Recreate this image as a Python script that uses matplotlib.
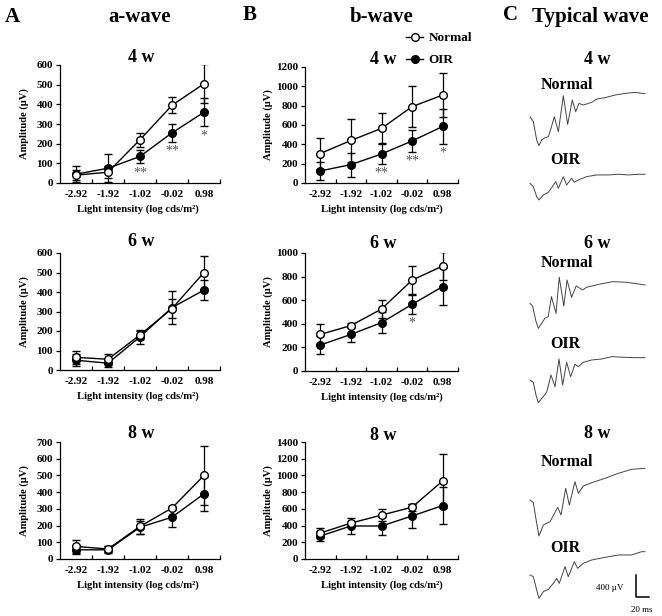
import matplotlib
matplotlib.use("Agg")
import matplotlib.pyplot as plt
import numpy as np

plt.rcParams['font.family'] = ['Liberation Serif', 'DejaVu Serif']
plt.rcParams['font.weight'] = 'bold'

W, H = 662, 616

intensity = ['-2.92', '-1.92', '-1.02', '-0.02', '0.98']
weeks = ['4 w', '6 w', '8 w']

# a-wave amplitude (uV): mean and SD, rows = 4 w, 6 w, 8 w
a_normal = [[40, 55, 220, 395, 505], [65, 55, 180, 315, 500], [75, 60, 195, 305, 500]]
a_normal_sd = [[25, 30, 35, 40, 100], [35, 25, 20, 50, 85], [40, 20, 45, 10, 175]]
a_oir = [[45, 75, 135, 255, 360], [50, 35, 170, 320, 410], [55, 55, 190, 250, 390]]
a_oir_sd = [[40, 70, 35, 45, 72], [30, 20, 35, 85, 50], [25, 20, 40, 60, 100]]
a_sig = [['', '', '**', '**', '*'], ['', '', '', '', ''], ['', '', '', '', '']]
a_ymax = [600, 600, 700]

# b-wave amplitude (uV)
b_normal = [[305, 440, 565, 790, 910], [310, 385, 525, 770, 890], [310, 430, 525, 620, 935]]
b_normal_sd = [[165, 225, 155, 210, 225], [85, 20, 75, 120, 120], [60, 30, 70, 40, 320]]
b_oir = [[125, 190, 300, 435, 585], [220, 310, 410, 565, 715], [275, 395, 395, 515, 640]]
b_oir_sd = [[90, 125, 100, 110, 180], [80, 65, 90, 80, 155], [60, 95, 110, 145, 225]]
b_sig = [['', '', '**', '**', '*'], ['', '', '', '*', ''], ['', '', '', '', '']]
b_ymax = [1200, 1000, 1400]

# typical ERG traces: time (ms) and amplitude (uV) from flash
wave_t = {
    ('4 w', 'Normal'): [0, 5.1, 10.3, 13.8, 17.9, 23.1, 28.2, 32.3, 37.4, 43.6, 51.3, 57.9, 65.1, 70.3,
                        75.4, 82.0, 94.9, 102.6, 115.4, 130.8, 146.2, 161.5, 176.9],
    ('4 w', 'OIR'): [0, 5.1, 10.3, 13.8, 20.5, 28.2, 34.4, 39.5, 43.6, 51.3, 56.4, 64.1, 68.2, 74.4,
                     87.2, 102.6, 120.5, 135.9, 151.3, 166.7, 176.9],
    ('6 w', 'Normal'): [0, 4, 9, 12.8, 17, 23, 28, 33, 40, 45, 52, 57, 64, 71, 81, 87, 108, 128, 149, 177],
    ('6 w', 'OIR'): [0, 5.1, 9.2, 12.8, 25.6, 32.3, 38.5, 44.6, 50.3, 56.4, 62.6, 69.2, 74.4, 82.0,
                     94.9, 110.3, 125.6, 146.2, 161.5, 176.9],
    ('8 w', 'Normal'): [0, 5.1, 10.3, 13.8, 20.5, 30.8, 42.6, 47.7, 54.9, 60.5, 69.2, 74.4, 82.0,
                        94.9, 115.4, 135.9, 156.4, 176.9],
    ('8 w', 'OIR'): [0, 5.1, 10.3, 13.8, 20.5, 28.2, 35.9, 41.0, 45.1, 53.8, 58.9, 68.2, 73.3, 82.0,
                     94.9, 115.4, 135.9, 156.4, 171.8, 176.9],
}
wave_uv = {
    ('4 w', 'Normal'): [0, -91, -424, -527, -424, -382, -364, -212, 0, -273, 382, -139, 303, 91,
                        242, 212, 261, 321, 345, 394, 424, 442, 418],
    ('4 w', 'OIR'): [0, -61, -242, -303, -212, -164, -61, 30, -91, 121, -30, 91, 18, 61,
                     121, 152, 152, 164, 152, 164, 164],
    ('6 w', 'Normal'): [0, -50, -320, -455, -380, -273, -243, 121, -182, 473, -49, 424, 109, 315,
                        242, 291, 351, 394, 382, 333],
    ('6 w', 'OIR'): [0, -42, -273, -412, -224, 91, -121, 382, -91, 321, 61, 285, 242, 321,
                     364, 382, 424, 412, 406, 406],
    ('8 w', 'Normal'): [0, -48, -424, -654, -455, -394, -133, -273, 212, -91, 333, 121, 255,
                        315, 394, 485, 558, 576],
    ('8 w', 'OIR'): [0, -30, -273, -424, -303, -261, -152, -61, -152, 152, -30, 242, 121, 212,
                     273, 321, 364, 364, 424, 424],
}

fig = plt.figure(figsize=(W / 100, H / 100), dpi=100)


def box(x0, x1, y0, y1):
    return [x0 / W, 1 - y1 / H, (x1 - x0) / W, (y1 - y0) / H]


def put(x, y, s, size, **kw):
    kw.setdefault('ha', 'center')
    kw.setdefault('va', 'center')
    fig.text(x / W, 1 - y / H, s, fontsize=size, **kw)


def curve(ax, normal, normal_sd, oir, oir_sd, sig, ymax):
    x = np.arange(1, 6)
    style = dict(color='black', lw=1.0, ms=5.5, mec='black', mew=1.0,
                 capsize=3, elinewidth=0.9, capthick=0.9)
    h_oir = ax.errorbar(x, oir, yerr=oir_sd, marker='o', mfc='black', zorder=3, **style)
    h_norm = ax.errorbar(x, normal, yerr=normal_sd, marker='o', mfc='white', zorder=4, **style)
    for xi, s, m, sd in zip(x, sig, oir, oir_sd):
        if s:
            ax.text(xi, m - sd - 0.08 * ymax, s, ha='center', va='center',
                    fontsize=10, color='#555555', fontweight='normal')
    ax.set_xlim(0.5, 5.5)
    ax.set_ylim(0, ymax)
    step = 100 if ymax <= 700 else 200
    ax.set_yticks(np.arange(0, ymax + 1, step))
    ax.set_xticks(x)
    ax.set_xticklabels(intensity)
    ax.set_xticks(np.arange(1.5, 6, 1), minor=True)
    ax.tick_params(axis='x', which='major', length=0, pad=5, labelsize=8)
    ax.tick_params(axis='x', which='minor', direction='in', length=3, width=0.9)
    ax.tick_params(axis='y', direction='out', length=3, width=0.9, pad=2, labelsize=8)
    for s in ['top', 'right']:
        ax.spines[s].set_visible(False)
    for s in ['left', 'bottom']:
        ax.spines[s].set_linewidth(0.9)
    return h_norm[0], h_oir[0]


rows_a = [(65, 183), (253, 370), (442, 559)]
rows_b = [(67, 183), (253, 371), (442, 559)]
title_y = [58, 242, 433]

for i in range(3):
    ax = fig.add_axes(box(60, 220, *rows_a[i]))
    curve(ax, a_normal[i], a_normal_sd[i], a_oir[i], a_oir_sd[i], a_sig[i], a_ymax[i])
    put(24, (rows_a[i][0] + rows_a[i][1]) / 2, 'Amplitude (µV)', 7.6, rotation=90)
    put(138, rows_a[i][1] + 26, 'Light intensity (log cds/m²)', 7.7)
    put(141, title_y[i], weeks[i], 13)

    ax = fig.add_axes(box(305, 458, *rows_b[i]))
    h_norm, h_oir = curve(ax, b_normal[i], b_normal_sd[i], b_oir[i], b_oir_sd[i], b_sig[i], b_ymax[i])
    put(268, (rows_b[i][0] + rows_b[i][1]) / 2, 'Amplitude (µV)', 7.6, rotation=90)
    put(382, rows_b[i][1] + 26, 'Light intensity (log cds/m²)', 7.7)
    put(383, title_y[i] + 2, weeks[i], 13)
    if i == 0:
        fig.legend([h_norm, h_oir], ['Normal', 'OIR'], loc='upper left',
                   bbox_to_anchor=(406 / W, 1 - 32 / H), frameon=False, fontsize=9.5,
                   handlelength=1.3, handletextpad=0.4, labelspacing=0.75,
                   borderpad=0, borderaxespad=0)

# headers
put(12, 17, 'A', 15)
put(140, 17, 'a-wave', 15)
put(250, 15, 'B', 15)
put(382, 17, 'b-wave', 15)
put(510, 15, 'C', 15)
put(590, 17, 'Typical wave', 15)

# panel C traces
mpp = 20 / 13.0      # ms per pixel
upp = 400 / 22.0     # uV per pixel
x_start = 530
axc = fig.add_axes(box(520, 662, 0, 616))
axc.set_xlim((520 - x_start) * mpp, (662 - x_start) * mpp)
axc.set_ylim(-616 * upp, 0)
axc.axis('off')

base_y = {('4 w', 'Normal'): 116.7, ('4 w', 'OIR'): 183.3,
          ('6 w', 'Normal'): 303.3, ('6 w', 'OIR'): 380,
          ('8 w', 'Normal'): 500, ('8 w', 'OIR'): 575}
label_y = {('4 w', 'Normal'): 85, ('4 w', 'OIR'): 160,
           ('6 w', 'Normal'): 263, ('6 w', 'OIR'): 344,
           ('8 w', 'Normal'): 462, ('8 w', 'OIR'): 548}
for key, t in wave_t.items():
    uv = np.array(wave_uv[key]) - base_y[key] * upp
    axc.plot(t, uv, color='#444444', lw=0.7)
    put(567 if key[1] == 'Normal' else 565, label_y[key], key[1], 11.5)
for i, w in enumerate(weeks):
    put(597, title_y[i] + 2 if i < 2 else title_y[i], w, 13)

# scale bar: 400 uV, 20 ms
cx, cy = (636 - x_start) * mpp, -597 * upp
axc.plot([cx, cx, cx + 20], [cy + 400, cy, cy], color='black', lw=1.1)
put(610, 588, '400 µV', 6.5, fontweight='normal')
put(642, 610, '20 ms', 6.5, fontweight='normal')

fig.savefig('out.png', dpi=100)
